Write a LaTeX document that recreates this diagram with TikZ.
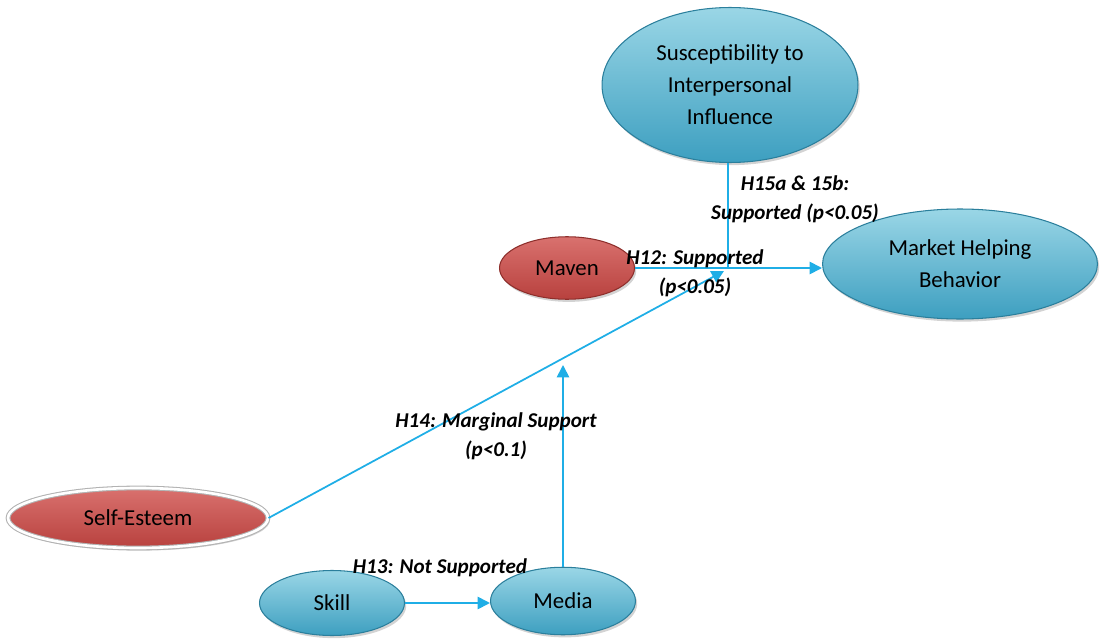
\documentclass[tikz,border=0pt]{standalone}
\usepackage{fontspec}
\setmainfont{Carlito}
\usepackage{tikz}
\usetikzlibrary{arrows.meta}
\usetikzlibrary{calc}
\usetikzlibrary{shapes.geometric}
\usetikzlibrary{shadows}

\definecolor{tealtop}{HTML}{9AD6E6}
\definecolor{tealbot}{HTML}{3D9FC0}
\definecolor{tealedge}{HTML}{2B7F9C}
\definecolor{redtop}{HTML}{D9716E}
\definecolor{redbot}{HTML}{B8413E}
\definecolor{rededge}{HTML}{8E2F2C}
\definecolor{linkblue}{HTML}{1FAEE6}

\begin{document}
\begin{tikzpicture}[x=0.02cm, y=-0.02cm]
\tikzstyle{construct}=[ellipse, inner sep=0pt, align=center,
  font=\fontsize{13}{18.2}\selectfont,
  drop shadow={shadow xshift=1pt, shadow yshift=-1.5pt, opacity=0.35}]
\tikzstyle{tealnode}=[construct, draw=tealedge, line width=0.6pt,
  top color=tealtop, bottom color=tealbot]
\tikzstyle{rednode}=[construct, draw=rededge, line width=0.6pt,
  top color=redtop, bottom color=redbot]
\tikzstyle{link}=[linkblue, line width=1pt, -{Triangle[length=7pt, width=7pt]}]
\tikzstyle{hyp}=[align=center, font=\fontsize{12}{16.5}\selectfont\bfseries\itshape]
	\useasboundingbox (0,0) rectangle (1100,639);

	% constructs
	\node [tealnode, minimum width = 5.12cm, minimum height = 3.1cm] (suscept)
	at (730,85) {Susceptibility to\\Interpersonal\\Influence};
	\node [tealnode, minimum width = 5.5cm, minimum height = 2.2cm] (market)
	at (960,264) {Market Helping\\Behavior};
	\node [rednode, minimum width = 2.7cm, minimum height = 1.25cm] (maven)
	at (567,268) {Maven};
	\node [rednode, minimum width = 5.2cm, minimum height = 1.2cm,
	double=white, double distance=1.5pt, draw=gray!60] (selfest)
	at (138,518) {Self-Esteem};
	\node [tealnode, minimum width = 2.9cm, minimum height = 1.3cm] (skill)
	at (332,603) {Skill};
	\node [tealnode, minimum width = 2.9cm, minimum height = 1.35cm] (media)
	at (563,601) {Media};

	% junctions
	\coordinate (hub) at (728,268);
	\coordinate (hubtip) at (724,271);
	\coordinate (modtip) at (563,365);

	% paths
	\draw [link] (maven.east |- hub) -- (maven.east |- hub -| market.west);
	\draw [linkblue, line width=1pt] (suscept.south -| hub) -- (hub);
	\draw [link] (selfest.east) -- (hubtip);
	\draw [link] (media.north) -- (modtip);
	\draw [link] (skill.east) -- (skill.east -| media.west);

	% labels
	\node [hyp] (h15) at (795,199) {H15a \& 15b:\\Supported (p<0.05)};
	\node [hyp] (h12) at (695,273) {H12: Supported\\(p<0.05)};
	\node [hyp] (h14) at (496,436) {H14: Marginal Support\\(p<0.1)};
	\node [hyp] (h13) at (440,568) {H13: Not Supported};
\end{tikzpicture}
\end{document}
